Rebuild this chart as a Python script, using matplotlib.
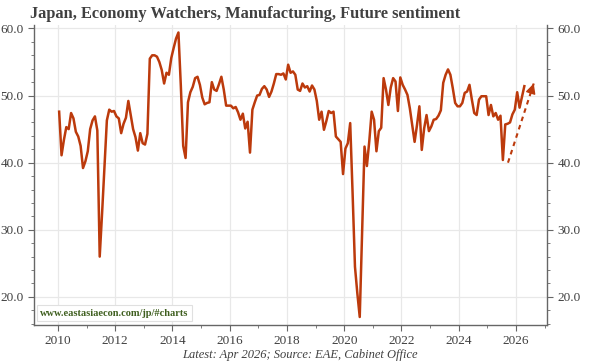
import matplotlib
matplotlib.use("Agg")
import matplotlib.pyplot as plt
import numpy as np
import pandas as pd
from matplotlib.ticker import MultipleLocator, FormatStrFormatter

# monthly future sentiment DI, Jan 2010 .. Apr 2026
start = "2010-01"
values = [
    47.6, 41.1, 43.4, 45.3, 45.0, 47.4, 46.6, 44.6, 43.9, 42.5, 39.2, 40.2,
    41.7, 45.0, 46.3, 46.9, 44.8, 26.0, 32.5, 39.5, 46.3, 47.9, 47.6, 47.7,
    46.9, 46.6, 44.4, 45.8, 46.7, 49.2, 47.1, 45.0, 43.8, 41.8, 44.4, 42.9,
    42.7, 44.3, 55.5, 56.0, 56.0, 55.8, 55.0, 53.8, 51.8, 53.4, 53.1, 55.6,
    57.1, 58.5, 59.4, 51.5, 42.5, 40.7, 49.0, 50.5, 51.3, 52.6, 52.8, 51.6,
    49.7, 48.7, 48.9, 49.0, 52.0, 50.9, 50.7, 51.7, 52.8, 50.9, 48.5, 48.5,
    48.5, 48.1, 48.3, 47.5, 46.4, 47.3, 45.1, 46.1, 41.5, 47.9, 49.0, 50.0,
    50.1, 51.0, 51.4, 50.9, 49.8, 50.6, 51.8, 53.2, 53.2, 53.1, 53.3, 52.4,
    54.6, 53.4, 53.6, 53.1, 50.9, 50.7, 51.8, 51.2, 51.4, 50.6, 51.5, 50.9,
    49.2, 46.4, 47.6, 44.9, 46.2, 47.7, 47.4, 47.6, 43.9, 43.5, 43.1, 38.3,
    42.1, 42.9, 45.9, 35.5, 24.5, 20.5, 17.0, 30.0, 42.4, 39.5, 43.2, 47.6,
    46.4, 41.7, 44.7, 45.2, 52.6, 50.9, 48.6, 51.2, 52.6, 52.1, 47.7, 52.7,
    51.6, 50.9, 50.1, 48.1, 45.6, 43.1, 45.6, 48.4, 41.9, 45.1, 47.1, 44.7,
    45.4, 46.4, 46.5, 47.0, 47.8, 51.9, 53.1, 53.9, 53.1, 51.1, 48.9, 48.4,
    48.4, 48.9, 50.4, 50.6, 51.6, 49.4, 47.4, 47.1, 49.4, 49.9, 49.9, 49.9,
    47.1, 48.6, 46.9, 47.4, 46.4, 47.0, 40.4, 45.7, 45.8, 46.0, 47.2, 47.9,
    50.5, 48.2, 49.8, 51.4,
]
# dashed trend arrow (from, to) in (year, value)
arrow_from = (2025.72, 40.0)
arrow_to = (2026.62, 51.8)

title = "Japan, Economy Watchers, Manufacturing, Future sentiment"
footer = "Latest: Apr 2026; Source: EAE, Cabinet Office"
watermark = "www.eastasiaecon.com/jp/#charts"

dates = pd.date_range(start, periods=len(values), freq="MS")
x = dates.year + (dates.month - 0.5) / 12.0

RED = "#BC3A0C"
GREY = "#404040"
SERIF = ["Liberation Serif", "DejaVu Serif"]
plt.rcParams["font.family"] = SERIF

fig = plt.figure(figsize=(6.0, 3.64), dpi=100)
ax = fig.add_axes([0.057, 0.107, 0.855, 0.824])

ax.plot(x, values, color=RED, lw=1.8, solid_joinstyle="round")

# dashed shaft, then a small solid head at the tip
ax.plot([arrow_from[0], arrow_to[0]], [arrow_from[1], arrow_to[1]],
        color=RED, lw=1.5, linestyle=(0, (2.2, 2)))
tail = (arrow_to[0] - 0.08 * (arrow_to[0] - arrow_from[0]),
        arrow_to[1] - 0.08 * (arrow_to[1] - arrow_from[1]))
ax.annotate("", xy=arrow_to, xytext=tail,
            arrowprops=dict(arrowstyle="-|>,head_length=0.6,head_width=0.3",
                            color=RED, lw=1.0, shrinkA=0, shrinkB=0))

ax.set_xlim(2009.17, 2027.09)
ax.set_ylim(15.8, 60.5)
ax.xaxis.set_major_locator(MultipleLocator(2))
ax.xaxis.set_minor_locator(MultipleLocator(1))
ax.yaxis.set_major_locator(MultipleLocator(10))
ax.yaxis.set_minor_locator(MultipleLocator(2))
ax.yaxis.set_major_formatter(FormatStrFormatter("%.1f"))
ax.grid(True, which="major", color="#E8E8E8", lw=0.9)
ax.set_axisbelow(True)

for s in ["left", "right", "bottom"]:
    ax.spines[s].set_color("#666666")
    ax.spines[s].set_linewidth(1.0)
ax.spines["top"].set_visible(False)
ax.tick_params(which="both", direction="out", color="#666666",
               labelcolor=GREY, labelsize=9.5, right=True, labelright=True)
ax.tick_params(which="major", length=4)
ax.tick_params(which="minor", length=2.5)

fig.text(0.05, 0.962, title, fontsize=11.8, fontweight="bold", color=GREY,
         ha="left", va="center")
fig.text(0.5, 0.025, footer, fontsize=9, style="italic", color=GREY,
         ha="center", va="center")
ax.text(0.012, 0.04, watermark, transform=ax.transAxes, fontsize=7.5,
        fontweight="bold", color="#3F5F1F", ha="left", va="center",
        bbox=dict(boxstyle="square,pad=0.35", fc="white", ec="#E0E0E0", lw=0.8))

fig.savefig("out.png", dpi=100)
